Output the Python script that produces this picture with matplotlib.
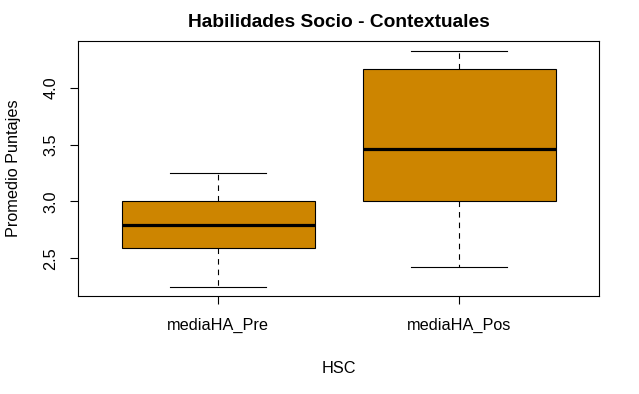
import matplotlib
matplotlib.use("Agg")
import matplotlib.pyplot as plt

plt.rcParams['font.family'] = ['Liberation Sans', 'DejaVu Sans']

# datos (boxplot de R)
grupos = ["mediaHA_Pre", "mediaHA_Pos"]
whisker_low = [2.25, 2.42]
q1 = [2.59, 3.00]
medianas = [2.79, 3.46]
q3 = [3.00, 4.17]
whisker_high = [3.25, 4.33]

stats = []
for g, lo, a, m, b, hi in zip(grupos, whisker_low, q1, medianas, q3, whisker_high):
    stats.append({"label": g, "whislo": lo, "q1": a, "med": m, "q3": b, "whishi": hi, "fliers": []})

fig = plt.figure(figsize=(6.39, 3.94), dpi=100)
ax = fig.add_axes([0.1225, 0.2487, 0.8149, 0.648])

ax.bxp(stats, positions=[1, 2], widths=0.8, patch_artist=True, showfliers=False,
       boxprops=dict(facecolor='#CD8500', edgecolor='black', linewidth=0.8),
       medianprops=dict(color='black', linewidth=2.3, solid_capstyle='butt'),
       whiskerprops=dict(color='black', linewidth=0.8, linestyle=(0, (5, 4.5))),
       capprops=dict(color='black', linewidth=0.8),
       capwidths=0.4)

ax.set_xlim(0.42, 2.58)
ax.set_ylim(2.167, 4.417)
ax.set_yticks([2.5, 3.0, 3.5, 4.0])
ax.set_yticklabels(["2.5", "3.0", "3.5", "4.0"], rotation=90, va='center')
ax.set_xticks([1, 2])
ax.set_xticklabels(grupos)

for s in ax.spines.values():
    s.set_linewidth(0.8)
ax.tick_params(axis='both', labelsize=11.7, width=0.8, length=5.5, color='black')
ax.tick_params(axis='x', pad=10.5)
ax.tick_params(axis='y', pad=9)

ax.set_title("Habilidades Socio - Contextuales", fontsize=13.8, fontweight='bold', pad=10)
ax.set_xlabel("HSC", fontsize=11.7, labelpad=20)
ax.set_ylabel("Promedio Puntajes", fontsize=11.7, labelpad=16)

fig.savefig("out.png", dpi=100)
